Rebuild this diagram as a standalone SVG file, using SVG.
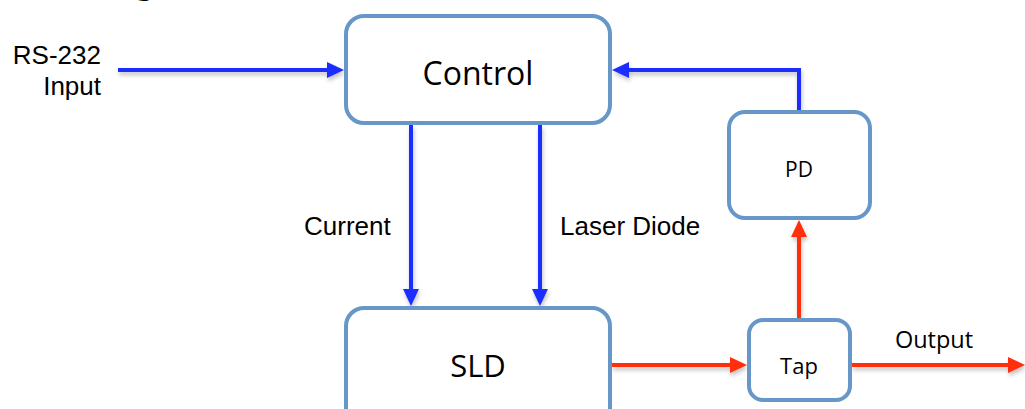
<svg xmlns="http://www.w3.org/2000/svg" width="1025" height="409" viewBox="0 0 1025 409">
  <style>
    .node { fill: #ffffff; stroke: #6797C8; stroke-width: 4; }
    .nlabel { font-family: "Open Sans", "Noto Sans", sans-serif; fill: #000000; text-anchor: middle; }
    .label { font-family: "Liberation Sans", Arial, sans-serif; font-size: 26px; fill: #000000; }
    .blue { fill: none; stroke: #1A2EFF; stroke-width: 4; }
    .red { fill: none; stroke: #FF2D0A; stroke-width: 4; }
  </style>
  <defs>
    <filter id="sh" filterUnits="userSpaceOnUse" x="0" y="0" width="1025" height="409">
      <feDropShadow dx="1" dy="3" stdDeviation="2" flood-color="#000000" flood-opacity="0.25"/>
    </filter>
    <marker id="ab" markerUnits="userSpaceOnUse" markerWidth="17" markerHeight="16" refX="7" refY="8" orient="auto">
      <path d="M0,0 L17,8 L0,16 z" fill="#1A2EFF"/>
    </marker>
    <marker id="ar" markerUnits="userSpaceOnUse" markerWidth="17" markerHeight="16" refX="7" refY="8" orient="auto">
      <path d="M0,0 L17,8 L0,16 z" fill="#FF2D0A"/>
    </marker>
  </defs>
  <rect width="1025" height="409" fill="#ffffff"/>

  <text x="132" y="-7" font-family="Liberation Sans, Arial, sans-serif" font-weight="bold" font-size="40">g</text>

  <g id="connectors" filter="url(#sh)">
    <path class="blue" d="M118,70 H334" marker-end="url(#ab)"/>
    <path class="blue" d="M411,125 V296" marker-end="url(#ab)"/>
    <path class="blue" d="M540,125 V296" marker-end="url(#ab)"/>
    <path class="blue" d="M799,110 V70 H622" marker-end="url(#ab)"/>
    <path class="red" d="M612,365 H737" marker-end="url(#ar)"/>
    <path class="red" d="M852,365 H1015" marker-end="url(#ar)"/>
    <path class="red" d="M799,318 V230" marker-end="url(#ar)"/>
  </g>

  <g id="control">
    <rect class="node" x="346" y="16" width="264" height="107" rx="18"/>
    <text class="nlabel" x="478" y="85" font-size="32">Control</text>
  </g>
  <g id="sld">
    <rect class="node" x="346" y="308" width="264" height="130" rx="18"/>
    <text class="nlabel" x="478" y="377" font-size="31">SLD</text>
  </g>
  <g id="pd">
    <rect class="node" x="729" y="112" width="141" height="106" rx="16"/>
    <text class="nlabel" x="799" y="177" font-size="21">PD</text>
  </g>
  <g id="tap">
    <rect class="node" x="749" y="320" width="101" height="80" rx="14"/>
    <text class="nlabel" x="799" y="374" font-size="22">Tap</text>
  </g>

  <g id="labels">
    <text class="label" x="101" y="64" text-anchor="end" font-size="26.5">RS-232</text>
    <text class="label" x="101" y="95" text-anchor="end" font-size="26.5">Input</text>
    <text class="label" x="304" y="235" font-size="26.5">Current</text>
    <text class="label" x="560" y="235" font-size="26.5">Laser Diode</text>
    <text class="nlabel" x="934" y="348" font-size="23.5">Output</text>
  </g>
</svg>
